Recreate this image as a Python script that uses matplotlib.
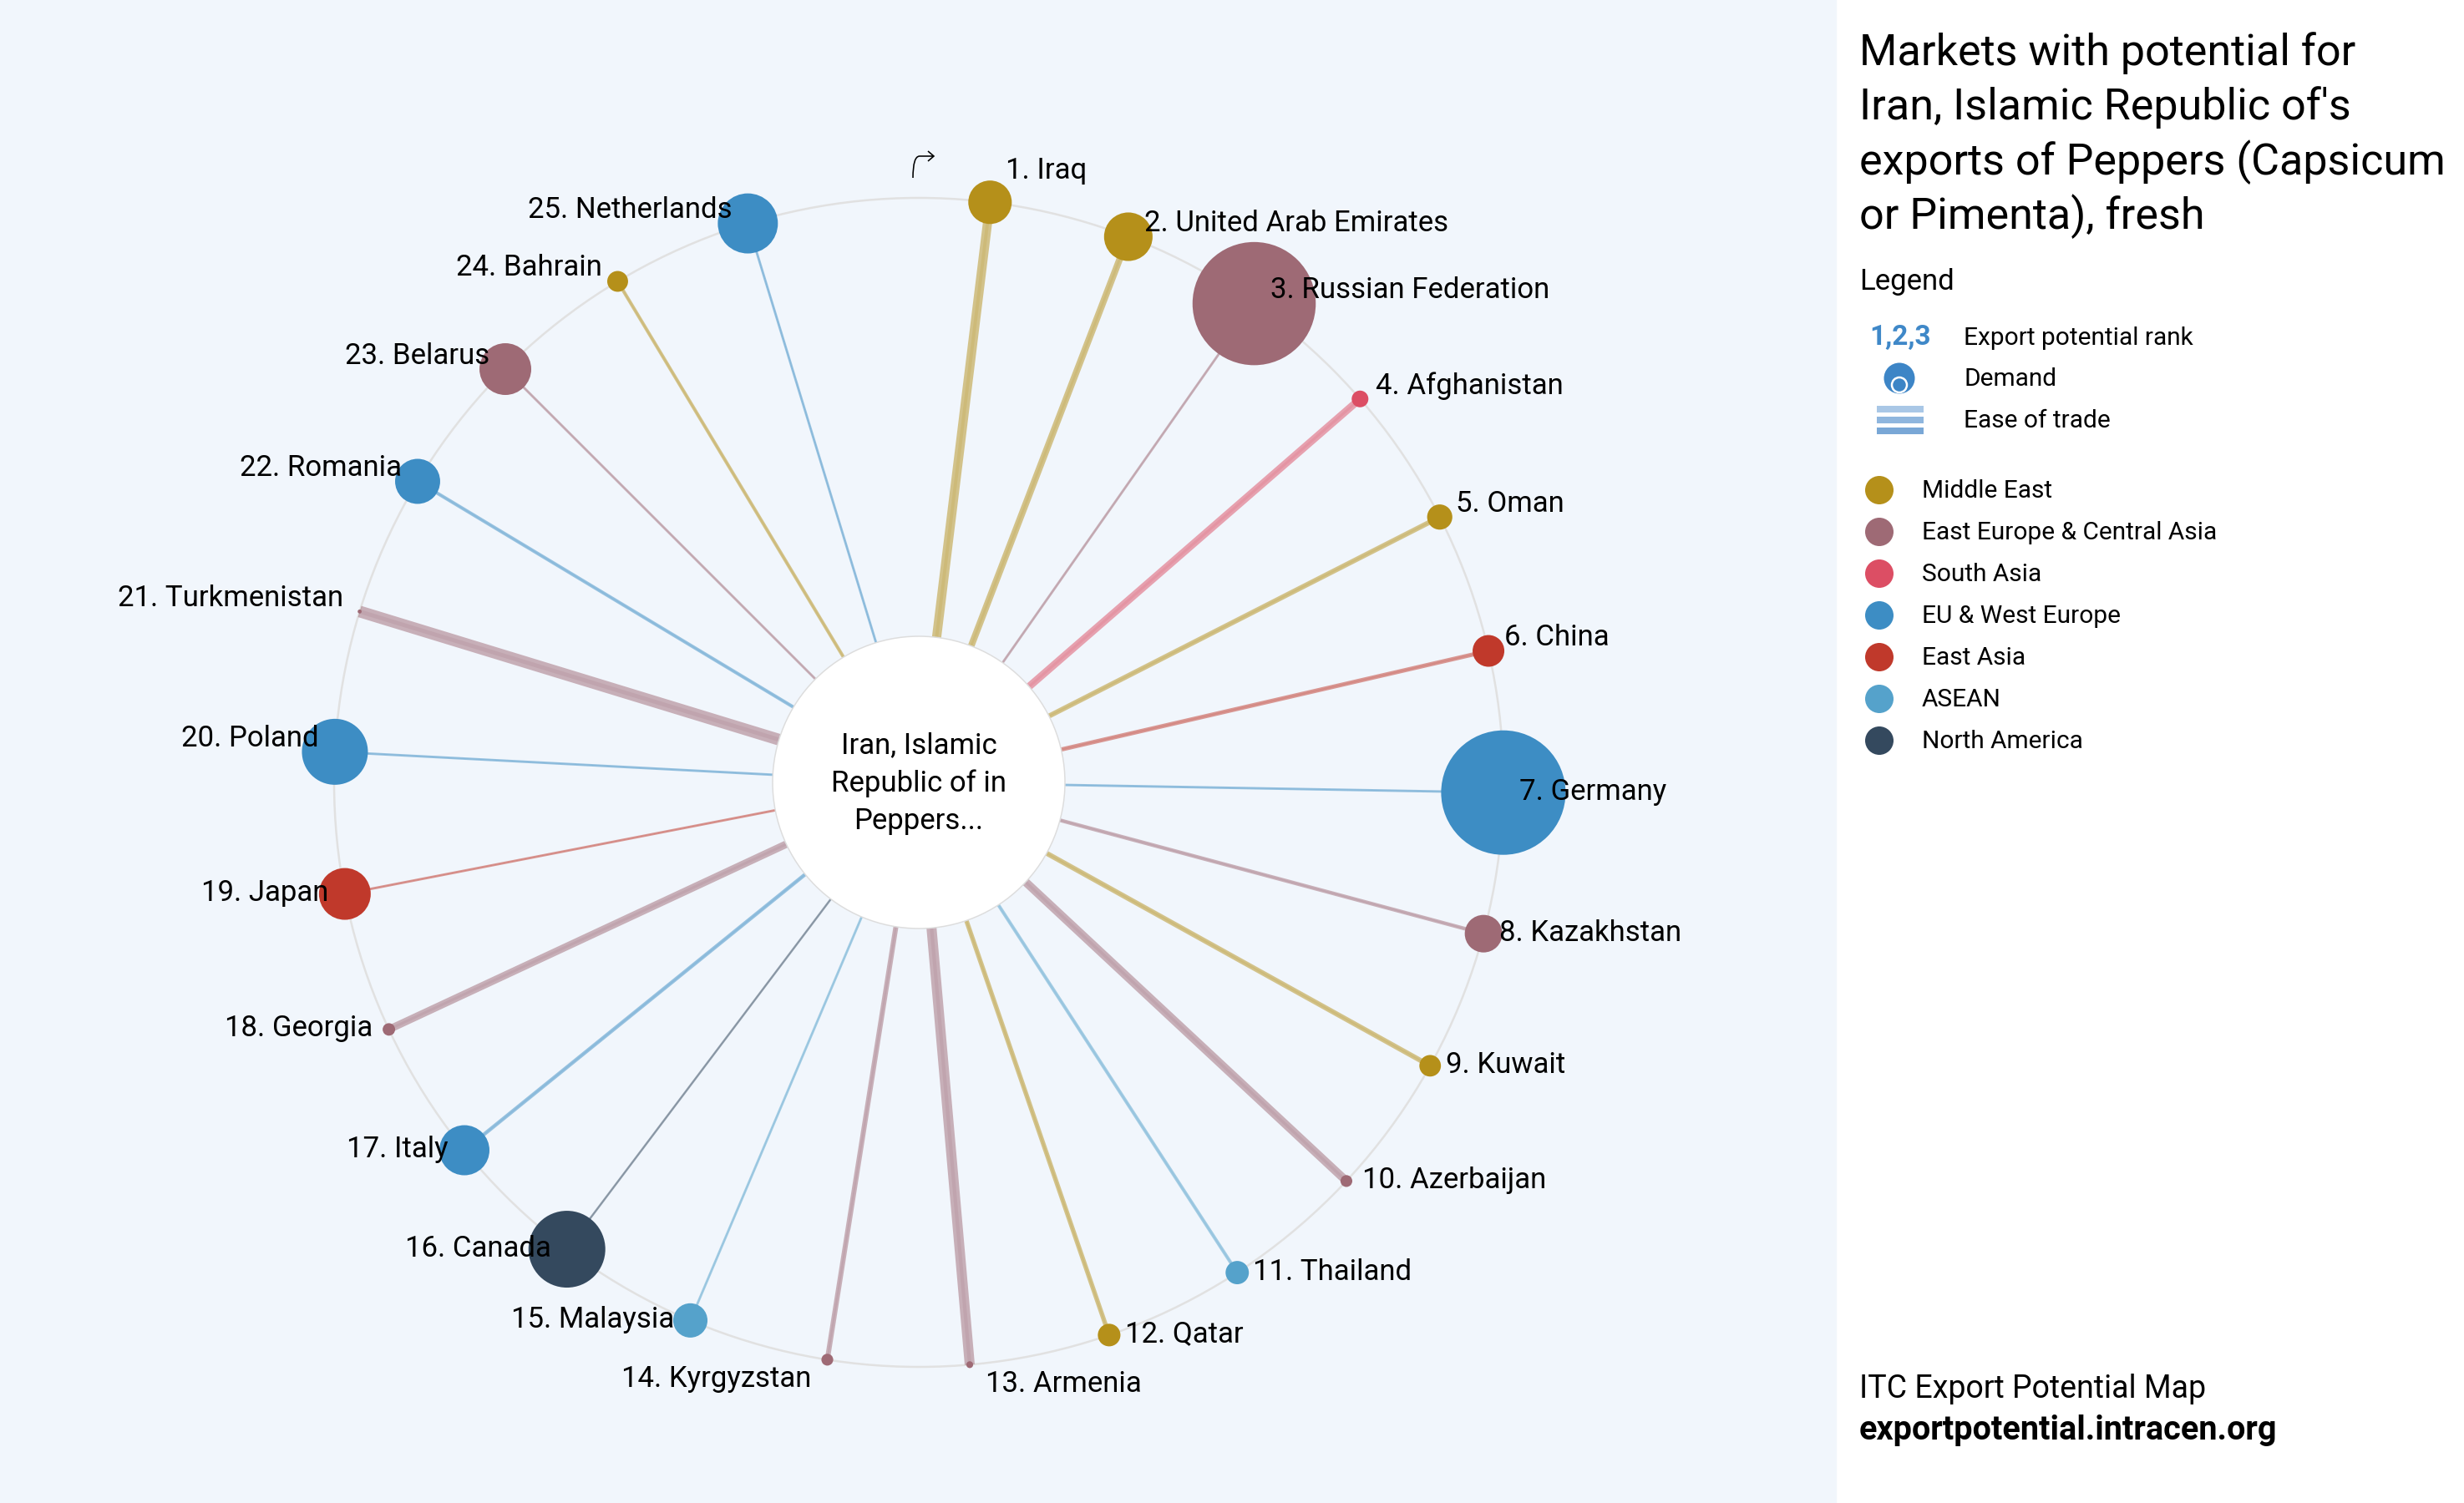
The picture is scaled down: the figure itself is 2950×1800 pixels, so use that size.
import numpy as np
import matplotlib.pyplot as plt
from matplotlib.patches import Circle, Rectangle, PathPatch
from matplotlib.path import Path

plt.rcParams['font.family'] = ['Roboto', 'DejaVu Sans']

# markets in rank order
countries = ['Iraq', 'United Arab Emirates', 'Russian Federation', 'Afghanistan', 'Oman',
             'China', 'Germany', 'Kazakhstan', 'Kuwait', 'Azerbaijan', 'Thailand', 'Qatar',
             'Armenia', 'Kyrgyzstan', 'Malaysia', 'Canada', 'Italy', 'Georgia', 'Japan',
             'Poland', 'Turkmenistan', 'Romania', 'Belarus', 'Bahrain', 'Netherlands']
regions = ['Middle East', 'Middle East', 'East Europe & Central Asia', 'South Asia', 'Middle East',
           'East Asia', 'EU & West Europe', 'East Europe & Central Asia', 'Middle East',
           'East Europe & Central Asia', 'ASEAN', 'Middle East', 'East Europe & Central Asia',
           'East Europe & Central Asia', 'ASEAN', 'North America', 'EU & West Europe',
           'East Europe & Central Asia', 'East Asia', 'EU & West Europe',
           'East Europe & Central Asia', 'EU & West Europe', 'East Europe & Central Asia',
           'Middle East', 'EU & West Europe']
# demand (relative, max = 100) -> dot area
demand = [12.2, 15.2, 98, 1.8, 4.1, 6.5, 100, 9.1, 3.0, 0.9, 3.5, 3.3, 0.3,
          0.9, 7.6, 38.1, 16.2, 1.0, 17.3, 28.1, 0.1, 13.1, 17.3, 2.8, 23.3]
# ease of trade (relative, max = 100) -> line width
ease = [79, 57, 21, 64, 43, 36, 21, 32, 43, 71, 29, 39, 86,
        43, 21, 18, 32, 64, 21, 21, 100, 29, 21, 29, 21]

region_names = ['Middle East', 'East Europe & Central Asia', 'South Asia', 'EU & West Europe',
                'East Asia', 'ASEAN', 'North America']
region_colors = ['#B5901A', '#9E6A75', '#DC4E64', '#3D8DC4', '#C0392B', '#55A2CB', '#34495E']
col_of = dict(zip(region_names, region_colors))

title_lines = ["Markets with potential for", "Iran, Islamic Republic of's",
               "exports of Peppers (Capsicum", "or Pimenta), fresh"]
center_label = 'Iran, Islamic\nRepublic of in\nPeppers...'

PT = 0.72  # points per pixel at dpi 100

fig = plt.figure(figsize=(29.5, 18), dpi=100)
ax = fig.add_axes([0, 0, 1, 1])
ax.set_xlim(0, 2950)
ax.set_ylim(1800, 0)
ax.axis('off')
ax.add_patch(Rectangle((0, 0), 2198, 1800, color='#F1F6FC', zorder=0))

cx, cy, R = 1100, 937, 700
ax.add_patch(Circle((cx, cy), R, fill=False, ec='#E1E1E1', lw=2.5 * PT, zorder=1))

for i, (name, reg) in enumerate(zip(countries, regions)):
    col = col_of[reg]
    th = np.deg2rad(7 + 14 * i)
    s, c = np.sin(th), np.cos(th)
    x, y = cx + R * s, cy - R * c
    w = ease[i] / 100 * 14
    ax.plot([cx, x], [cy, y], color=col, alpha=0.5, lw=w * PT, solid_capstyle='butt', zorder=2)
    ax.plot([cx, x], [cy, y], color=col, alpha=0.15, lw=w * 0.35 * PT, solid_capstyle='butt', zorder=2)
    r = 74.5 * np.sqrt(demand[i] / 100)
    ax.add_patch(Circle((x, y), r, color=col, lw=0, zorder=4))

    if c > 0.97:
        dy = -38
    elif c < -0.97:
        dy = 23
    elif c > 0:
        dy = -16
    else:
        dy = -1
    if s >= 0:
        ax.text(x + 19, y + dy, f'{i + 1}. {name}', ha='left', va='center', fontsize=25, zorder=6)
    else:
        ax.text(x - 19, y + dy, f'{i + 1}. {name}', ha='right', va='center', fontsize=25, zorder=6)

ax.add_patch(Circle((cx, cy), 175, fc='white', ec='#DDDDDD', lw=1.5 * PT, zorder=3))
ax.text(cx, cy + 1, center_label, ha='center', va='center', fontsize=25, linespacing=1.45, zorder=5)

# rotation arrow at the top of the ring
arrow = Path([(1093, 213), (1093, 187), (1101, 187), (1118, 187),
              (1111, 181), (1118, 187), (1111, 193)],
             [Path.MOVETO, Path.CURVE3, Path.CURVE3, Path.LINETO,
              Path.MOVETO, Path.LINETO, Path.LINETO])
ax.add_patch(PathPatch(arrow, fill=False, ec='black', lw=1.6 * PT, zorder=5))

# right panel
for k, line in enumerate(title_lines):
    ax.text(2226, 64 + 65 * k, line, ha='left', va='center', fontsize=37.5)
ax.text(2226, 338, 'Legend', ha='left', va='center', fontsize=25)

ax.text(2238, 404, '1,2,3', ha='left', va='center', fontsize=24, fontweight='bold', color='#3F88C8')
ax.text(2351, 405, 'Export potential rank', ha='left', va='center', fontsize=21.5)
ax.add_patch(Circle((2274, 453), 18.5, color='#3D85C6', lw=0))
ax.add_patch(Circle((2274, 461), 9, fc='#3D85C6', ec='white', lw=2.5 * PT))
ax.text(2351, 454, 'Demand', ha='left', va='center', fontsize=21.5)
for k, shade in enumerate(['#A9C7E6', '#8FB6DE', '#79A7D6']):
    ax.add_patch(Rectangle((2247, 486 + k * 13), 56, 8, color=shade, lw=0))
ax.text(2351, 504, 'Ease of trade', ha='left', va='center', fontsize=21.5)

for k, (rn, rc) in enumerate(zip(region_names, region_colors)):
    yy = 587 + k * 50
    ax.add_patch(Circle((2250, yy), 17, color=rc, lw=0))
    ax.text(2301, yy + 1, rn, ha='left', va='center', fontsize=21.5)

ax.text(2226, 1663, 'ITC Export Potential Map', ha='left', va='center', fontsize=27)
ax.text(2226, 1713, 'exportpotential.intracen.org', ha='left', va='center', fontsize=28.5, fontweight='bold')

fig.savefig('out.png', dpi=100, facecolor='white')
